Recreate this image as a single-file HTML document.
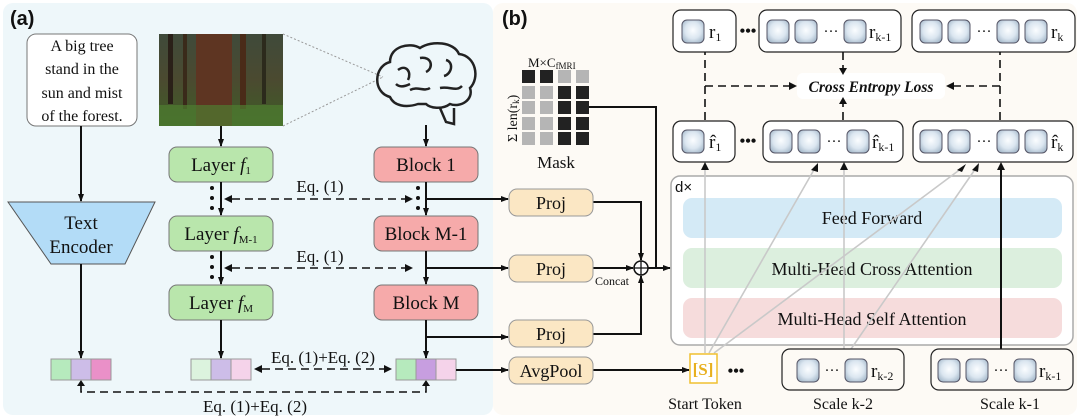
<!DOCTYPE html>
<html><head><meta charset="utf-8"><style>
body{margin:0;width:1080px;height:418px;overflow:hidden;background:#fff}
svg{display:block}
text{font-family:"Liberation Serif",serif;fill:#111}
</style></head><body>
<svg width="1080" height="418" viewBox="0 0 1080 418" xmlns="http://www.w3.org/2000/svg">
<defs>
<marker id="a" markerWidth="8" markerHeight="8" refX="7" refY="4" orient="auto" markerUnits="userSpaceOnUse"><path d="M0,1 L8,4 L0,7 z" fill="#111"/></marker>
<radialGradient id="tk" cx="50%" cy="45%" r="60%"><stop offset="0" stop-color="#fbfdff"/><stop offset="0.6" stop-color="#dbe6f0"/><stop offset="1" stop-color="#a9bccd"/></radialGradient>
<linearGradient id="img" x1="0" y1="0" x2="0" y2="1"><stop offset="0" stop-color="#3f4a3a"/><stop offset="0.5" stop-color="#4b4a30"/><stop offset="1" stop-color="#3e5e26"/></linearGradient>
</defs>
<rect x="3" y="3" width="490" height="412" rx="10" fill="#eef7fa"/>
<rect x="493" y="3" width="584" height="412" rx="10" fill="#fdfaf5"/>
<text x="10" y="25" style="font-family:'Liberation Sans',sans-serif;font-weight:bold;font-size:20px">(a)</text>
<text x="502" y="25" style="font-family:'Liberation Sans',sans-serif;font-weight:bold;font-size:20px">(b)</text>

<rect x="27" y="34" width="110" height="92" rx="9" fill="#fff" stroke="#777"/>
<g font-size="16" text-anchor="middle"><text x="82" y="51">A big tree</text><text x="82" y="74">stand in the</text><text x="82" y="98">sun and mist</text><text x="82" y="121">of the forest.</text></g>
<line x1="81" y1="126" x2="81" y2="201" stroke="#111" stroke-width="2" marker-end="url(#a)"/>
<path d="M8,202 L155,202 L125,264 L51,264 z" fill="#b3dcf7" stroke="#555"/>
<text x="81" y="229" font-size="19" text-anchor="middle">Text</text>
<text x="81" y="253" font-size="19" text-anchor="middle">Encoder</text>
<line x1="81" y1="264" x2="81" y2="358" stroke="#111" stroke-width="2" marker-end="url(#a)"/>

<rect x="159" y="34" width="124" height="92" fill="url(#img)"/>
<rect x="196" y="34" width="36" height="92" fill="#5e3522"/>
<rect x="168" y="34" width="5" height="70" fill="#2a2018"/><rect x="240" y="34" width="6" height="75" fill="#4a2b18"/><rect x="262" y="34" width="4" height="70" fill="#2c2a1c"/><rect x="183" y="34" width="4" height="75" fill="#3a2a1a"/>
<rect x="159" y="105" width="124" height="21" fill="#4f7e30" opacity="0.7"/>
<line x1="283" y1="34" x2="383" y2="77" stroke="#999" stroke-dasharray="2,2"/>
<line x1="283" y1="126" x2="383" y2="77" stroke="#999" stroke-dasharray="2,2"/>
<g fill="none" stroke="#222" stroke-width="2.5">
<path d="M390,97 C372,92 374,66 390,62 C390,46 410,42 420,48 C432,40 454,42 459,54 C476,56 480,78 470,88 C474,100 460,108 450,104 C442,110 430,108 426,104 L418,104 C406,108 394,106 390,97 z"/>
<path d="M440,108 L446,122 L454,124 L454,108"/>
<path d="M398,70 C406,64 412,72 408,80 M420,58 C432,56 434,68 426,72 M446,60 C454,62 452,74 444,76 M410,90 C418,86 424,92 430,88 M440,88 C450,86 456,92 462,86 M396,84 C400,88 406,86 410,84"/>
</g>
<line x1="426" y1="125" x2="426" y2="146" stroke="#111" stroke-width="2" marker-end="url(#a)"/>
<line x1="221" y1="126" x2="221" y2="146" stroke="#111" stroke-width="2" marker-end="url(#a)"/>

<g stroke="#777" stroke-width="1">
<rect x="169" y="147" width="104" height="35" rx="8" fill="#b9e6ac"/>
<rect x="169" y="216" width="104" height="35" rx="8" fill="#b9e6ac"/>
<rect x="169" y="285" width="104" height="35" rx="8" fill="#b9e6ac"/>
<rect x="374" y="147" width="104" height="35" rx="8" fill="#f6aaaa"/>
<rect x="374" y="216" width="104" height="35" rx="8" fill="#f6aaaa"/>
<rect x="374" y="285" width="104" height="35" rx="8" fill="#f6aaaa"/>
</g>
<g font-size="19" text-anchor="middle">
<text x="221" y="171">Layer <tspan font-style="italic">f</tspan><tspan font-size="11" dy="3">1</tspan></text>
<text x="221" y="240">Layer <tspan font-style="italic">f</tspan><tspan font-size="11" dy="3">M-1</tspan></text>
<text x="221" y="309">Layer <tspan font-style="italic">f</tspan><tspan font-size="11" dy="3">M</tspan></text>
<text x="426" y="171">Block 1</text>
<text x="426" y="240">Block M-1</text>
<text x="426" y="309">Block M</text>
</g>
<g stroke="#111" stroke-width="2">
<line x1="221" y1="182" x2="221" y2="215" marker-end="url(#a)"/>
<line x1="221" y1="251" x2="221" y2="284" marker-end="url(#a)"/>
<line x1="221" y1="320" x2="221" y2="358" marker-end="url(#a)"/>
<line x1="426" y1="182" x2="426" y2="215" marker-end="url(#a)"/>
<line x1="426" y1="251" x2="426" y2="284" marker-end="url(#a)"/>
<line x1="426" y1="320" x2="426" y2="358" marker-end="url(#a)"/>
</g>
<g fill="#111"><circle cx="212" cy="188" r="2"/><circle cx="212" cy="198" r="2"/><circle cx="212" cy="208" r="2"/>
<circle cx="212" cy="257" r="2"/><circle cx="212" cy="267" r="2"/><circle cx="212" cy="277" r="2"/>
<circle cx="418" cy="188" r="2"/><circle cx="418" cy="198" r="2"/><circle cx="418" cy="208" r="2"/></g>
<g stroke="#111" stroke-width="1.6" stroke-dasharray="8,5" fill="none">
<line x1="232" y1="199" x2="405" y2="199"/>
<line x1="232" y1="268" x2="405" y2="268"/>
<line x1="262" y1="369" x2="384" y2="369"/>
<path d="M81,385 L81,392 L426,392 L426,385"/>
</g>
<path d="M77,386 L81,380 L85,386z M422,386 L426,380 L430,386z" fill="#111"/>
<path d="M232,195 L224,199 L232,203z M405,195 L413,199 L405,203z M232,264 L224,268 L232,272z M405,264 L413,268 L405,272z M262,365 L254,369 L262,373z M384,365 L392,369 L384,373z" fill="#111"/>
<g font-size="17" text-anchor="middle"><text x="320" y="192">Eq. (1)</text><text x="320" y="262">Eq. (1)</text><text x="323" y="363">Eq. (1)+Eq. (2)</text><text x="255" y="412">Eq. (1)+Eq. (2)</text></g>

<g stroke="#999">
<rect x="51" y="359" width="20" height="21" fill="#b6eabd"/><rect x="71" y="359" width="20" height="21" fill="#cdbde8"/><rect x="91" y="359" width="20" height="21" fill="#ea90c8"/>
<rect x="191" y="359" width="20" height="21" fill="#dcf3de"/><rect x="211" y="359" width="20" height="21" fill="#cdbde8"/><rect x="231" y="359" width="20" height="21" fill="#f5d3ea"/>
<rect x="396" y="359" width="20" height="21" fill="#b6eabd"/><rect x="416" y="359" width="20" height="21" fill="#c79ee0"/><rect x="436" y="359" width="20" height="21" fill="#f5d3ea"/>
</g>

<g stroke="#111" stroke-width="2" fill="none">
<line x1="426" y1="199" x2="508" y2="199" marker-end="url(#a)"/>
<line x1="426" y1="268" x2="508" y2="268" marker-end="url(#a)"/>
<line x1="426" y1="337" x2="508" y2="337" marker-end="url(#a)"/>
<line x1="456" y1="370" x2="508" y2="370" marker-end="url(#a)"/>
<path d="M593,202 L641,202 L641,260" marker-end="url(#a)"/>
<path d="M593,334 L641,334 L641,276" marker-end="url(#a)"/>
<line x1="593" y1="268" x2="633" y2="268" marker-end="url(#a)"/>
<path d="M588,107 L656,107 L656,268"/>
<line x1="648" y1="268" x2="670" y2="268" marker-end="url(#a)"/>
<line x1="593" y1="370" x2="689" y2="370" marker-end="url(#a)"/>
</g>
<circle cx="641" cy="268" r="7" fill="#fff" stroke="#111" stroke-width="1.5"/>
<path d="M634,268 H648 M641,261 V275" stroke="#111" stroke-width="1.3"/>
<text x="612" y="285" font-size="12" text-anchor="middle">Concat</text>
<g stroke="#999" fill="#fbe7c4">
<rect x="509" y="189" width="84" height="27" rx="8"/><rect x="509" y="255" width="84" height="27" rx="8"/><rect x="509" y="320" width="84" height="27" rx="8"/><rect x="509" y="357" width="84" height="27" rx="8"/>
</g>
<g font-size="18" text-anchor="middle"><text x="551" y="209">Proj</text><text x="551" y="275">Proj</text><text x="551" y="340">Proj</text><text x="551" y="377">AvgPool</text></g>

<g>
<rect x="522" y="70" width="13" height="13" fill="#222"/><rect x="540" y="70" width="13" height="13" fill="#222"/><rect x="558" y="70" width="13" height="13" fill="#b5b5b5"/><rect x="576" y="70" width="13" height="13" fill="#b5b5b5"/>
<rect x="522" y="86" width="13" height="13" fill="#b5b5b5"/><rect x="540" y="86" width="13" height="13" fill="#b5b5b5"/><rect x="558" y="86" width="13" height="13" fill="#222"/><rect x="576" y="86" width="13" height="13" fill="#222"/>
<rect x="522" y="101" width="13" height="13" fill="#b5b5b5"/><rect x="540" y="101" width="13" height="13" fill="#b5b5b5"/><rect x="558" y="101" width="13" height="13" fill="#222"/><rect x="576" y="101" width="13" height="13" fill="#222"/>
<rect x="522" y="117" width="13" height="13" fill="#b5b5b5"/><rect x="540" y="117" width="13" height="13" fill="#b5b5b5"/><rect x="558" y="117" width="13" height="13" fill="#222"/><rect x="576" y="117" width="13" height="13" fill="#222"/>
<rect x="522" y="132" width="13" height="13" fill="#b5b5b5"/><rect x="540" y="132" width="13" height="13" fill="#b5b5b5"/><rect x="558" y="132" width="13" height="13" fill="#222"/><rect x="576" y="132" width="13" height="13" fill="#222"/>
</g>
<text x="528" y="67" font-size="13">M×C<tspan font-size="9" dy="2">fMRI</tspan></text>
<text transform="translate(517,142) rotate(-90)" font-size="14">Σ len(r<tspan font-size="9" dy="2">k</tspan><tspan dy="-2">)</tspan></text>
<text x="556" y="168" font-size="17" text-anchor="middle">Mask</text>

<rect x="671" y="176" width="402" height="169" rx="9" fill="#fff" stroke="#aaa" stroke-width="1.5"/>
<text x="675" y="192" font-size="15" style="font-family:'Liberation Sans',sans-serif">d×</text>
<rect x="683" y="198" width="379" height="40" rx="9" fill="#d4eaf6"/>
<rect x="683" y="248" width="379" height="40" rx="9" fill="#dcefde"/>
<rect x="683" y="298" width="379" height="40" rx="9" fill="#f6dcdc"/>
<g font-size="18" text-anchor="middle"><text x="872" y="224">Feed Forward</text><text x="872" y="275">Multi-Head Cross Attention</text><text x="872" y="325">Multi-Head Self Attention</text></g>

<g stroke="#c9c9c9" stroke-width="1.6">
<line x1="705" y1="353" x2="705" y2="166"/>
<line x1="709" y1="353" x2="815" y2="168"/>
<line x1="844" y1="349" x2="844" y2="166"/>
<line x1="714" y1="353" x2="962" y2="168"/>
<line x1="851" y1="349" x2="976" y2="168"/>
</g>
<line x1="1001" y1="349" x2="1001" y2="166" stroke="#111" stroke-width="2"/>
<g fill="#111"><path d="M701,170 L705,162 L709,170z M840,170 L844,162 L848,170z M997,170 L1001,162 L1005,170z M811,170 L818,163 L818,172z M957,170 L966,164 L962,172z M972,170 L979,163 L978,172z"/></g>

<g fill="#fff" stroke="#222" stroke-width="1.2">
<rect x="673" y="10" width="63" height="42" rx="8"/><rect x="759" y="10" width="142" height="42" rx="8"/><rect x="912" y="10" width="163" height="42" rx="8"/>
<rect x="673" y="121" width="62" height="41" rx="8"/><rect x="763" y="121" width="140" height="41" rx="8"/><rect x="913" y="121" width="160" height="41" rx="8"/>
</g>
<g fill="url(#tk)" stroke="#556" stroke-width="1">
<rect x="682" y="20" width="22" height="23" rx="5"/>
<rect x="767" y="20" width="22" height="23" rx="5"/><rect x="795" y="20" width="22" height="23" rx="5"/><rect x="844" y="20" width="22" height="23" rx="5"/>
<rect x="920" y="20" width="22" height="23" rx="5"/><rect x="948" y="20" width="22" height="23" rx="5"/><rect x="997" y="20" width="22" height="23" rx="5"/><rect x="1025" y="20" width="22" height="23" rx="5"/>
<rect x="682" y="130" width="22" height="23" rx="5"/>
<rect x="770" y="130" width="22" height="23" rx="5"/><rect x="798" y="130" width="22" height="23" rx="5"/><rect x="847" y="130" width="22" height="23" rx="5"/>
<rect x="920" y="130" width="22" height="23" rx="5"/><rect x="948" y="130" width="22" height="23" rx="5"/><rect x="997" y="130" width="22" height="23" rx="5"/><rect x="1025" y="130" width="22" height="23" rx="5"/>
<rect x="797" y="359" width="22" height="23" rx="5"/><rect x="845" y="359" width="22" height="23" rx="5"/>
<rect x="938" y="359" width="22" height="23" rx="5"/><rect x="966" y="359" width="22" height="23" rx="5"/><rect x="1014" y="359" width="22" height="23" rx="5"/>
</g>
<g font-size="19"><text x="709" y="38">r<tspan font-size="12" dy="3">1</tspan></text><text x="869" y="38">r<tspan font-size="12" dy="3">k-1</tspan></text><text x="1051" y="38">r<tspan font-size="12" dy="3">k</tspan></text>
<text x="709" y="148">r̂<tspan font-size="12" dy="3">1</tspan></text><text x="872" y="148">r̂<tspan font-size="12" dy="3">k-1</tspan></text><text x="1051" y="148">r̂<tspan font-size="12" dy="3">k</tspan></text>
<text x="871" y="377">r<tspan font-size="12" dy="3">k-2</tspan></text><text x="1039" y="377">r<tspan font-size="12" dy="3">k-1</tspan></text></g>
<g font-size="16" font-weight="bold" text-anchor="middle"><text x="748" y="36">•••</text><text x="748" y="146">•••</text><text x="736" y="376">•••</text></g>
<g font-size="15" text-anchor="middle"><text x="831" y="36">···</text><text x="984" y="36">···</text><text x="834" y="146">···</text><text x="984" y="146">···</text><text x="832" y="375">···</text><text x="1001" y="375">···</text></g>

<rect x="797" y="73" width="148" height="26" rx="6" fill="#fff"/>
<text x="871" y="92" font-size="15.5" font-weight="bold" font-style="italic" text-anchor="middle">Cross Entropy Loss</text>
<g stroke="#111" stroke-width="1.6" stroke-dasharray="8,5" fill="none">
<path d="M705,120 L705,52"/><path d="M1000,120 L1000,52"/>
<line x1="705" y1="86" x2="792" y2="86"/><line x1="1000" y1="86" x2="951" y2="86"/>
<line x1="843" y1="52" x2="843" y2="70"/><line x1="843" y1="120" x2="843" y2="103"/>
</g>
<path d="M789,82 L797,86 L789,90z M954,82 L946,86 L954,90z M839,68 L843,75 L847,68z M839,104 L843,97 L847,104z" fill="#111"/>

<rect x="690" y="354" width="27" height="29" fill="#fff" stroke="#f0c030" stroke-width="1.5"/>
<text x="703" y="375" font-size="17" font-weight="bold" text-anchor="middle" style="fill:#e8b020">[S]</text>
<rect x="782" y="349" width="122" height="41" rx="8" fill="none" stroke="#222" stroke-width="1.2"/>
<rect x="931" y="349" width="142" height="41" rx="8" fill="none" stroke="#222" stroke-width="1.2"/>
<g font-size="16" text-anchor="middle"><text x="705" y="409">Start Token</text><text x="843" y="409">Scale k-2</text><text x="1010" y="409">Scale k-1</text></g>
</svg>
</body></html>
